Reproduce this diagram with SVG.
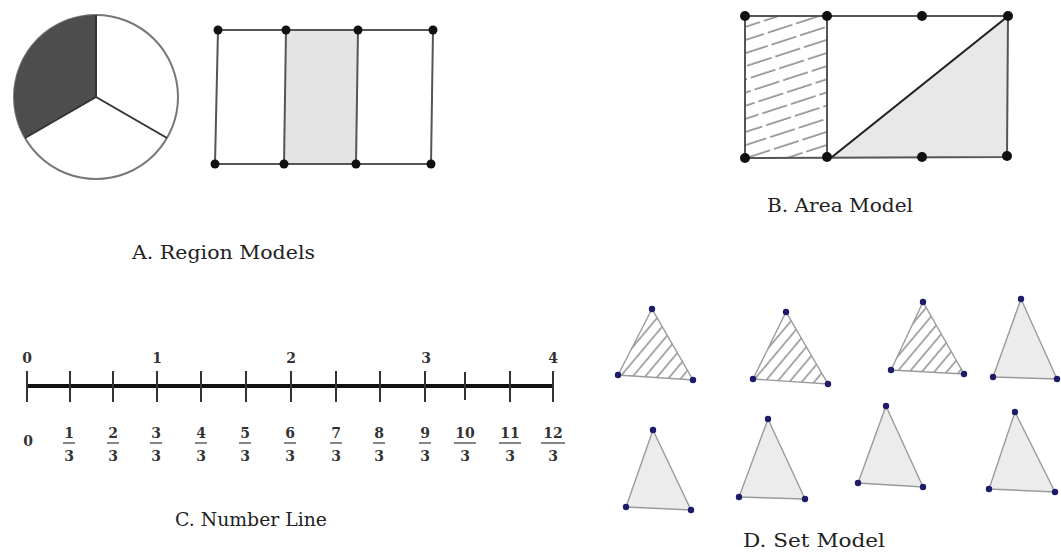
<svg xmlns="http://www.w3.org/2000/svg" width="1061" height="553" viewBox="0 0 1061 553">
<style>
.lbl{font-family:"DejaVu Serif","Liberation Serif",serif;font-size:19px;fill:#222}
.num{font-family:"DejaVu Serif","Liberation Serif",serif;font-size:14px;font-weight:bold;fill:#333;text-anchor:middle}
.tick{stroke:#333;stroke-width:2}
.bar{stroke:#444;stroke-width:1.3}
.dot{fill:#111}
.bdot{fill:#1c1c6b}
.tri{stroke:#9a9a9a;stroke-width:1.4;fill:#ececec}
.trih{stroke:#9a9a9a;stroke-width:1.4;fill:url(#hatchTri)}
.edge{stroke:#555;stroke-width:2;fill:none}
</style>
<defs>
<pattern id="hatchArea" patternUnits="userSpaceOnUse" width="60" height="12.5" patternTransform="rotate(-18)">
<line x1="0" y1="6" x2="60" y2="6" stroke="#666" stroke-width="1.2" stroke-dasharray="26 4"/>
</pattern>
<pattern id="hatchTri" patternUnits="userSpaceOnUse" width="9.5" height="20" patternTransform="rotate(40)">
<rect width="9.5" height="20" fill="#fff"/>
<line x1="4.75" y1="0" x2="4.75" y2="20" stroke="#666" stroke-width="1.1"/>
</pattern>
</defs>

<g id="regionPie">
<circle cx="96" cy="97" r="82" fill="#fff" stroke="#777" stroke-width="2"/>
<path d="M96,97 L96,15 A82,82 0 0 0 25,138 Z" fill="#4d4d4d"/>
<path d="M96,15 L96,97 L25,138 M96,97 L167,138" stroke="#333" stroke-width="2" fill="none"/>
</g>

<g id="regionRect">
<path d="M286,30 L358,30 L356,164 L284,164 Z" fill="#e4e4e4"/>
<path d="M218,30 L433,30 L431,164 L215,164 Z M286,30 L284,164 M358,30 L356,164" class="edge"/>
<circle class="dot" cx="218" cy="30" r="4.5"/><circle class="dot" cx="286" cy="30" r="4.5"/>
<circle class="dot" cx="358" cy="30" r="4.5"/><circle class="dot" cx="433" cy="30" r="4.5"/>
<circle class="dot" cx="215" cy="164" r="4.5"/><circle class="dot" cx="284" cy="164" r="4.5"/>
<circle class="dot" cx="356" cy="164" r="4.5"/><circle class="dot" cx="431" cy="164" r="4.5"/>
</g>
<text id="labelA" class="lbl" x="132" y="259" font-size="20" textLength="183" lengthAdjust="spacingAndGlyphs">A. Region Models</text>

<g id="areaModel">
<rect x="745" y="16" width="82" height="141" fill="url(#hatchArea)"/>
<path d="M832,157 L1007,17 L1007,157 Z" fill="#e8e8e8"/>
<path d="M745,16 L1008,16 L1007,157 L745,158 Z M827,16 L827,158" stroke="#555" stroke-width="2" fill="none"/>
<path d="M832,157 L1007,17" stroke="#222" stroke-width="2.2" fill="none"/>
<circle class="dot" cx="745" cy="16" r="5"/><circle class="dot" cx="827" cy="16" r="5"/>
<circle class="dot" cx="922" cy="16" r="5"/><circle class="dot" cx="1008" cy="16" r="5"/>
<circle class="dot" cx="745" cy="158" r="5"/><circle class="dot" cx="827" cy="157" r="5"/>
<circle class="dot" cx="922" cy="157" r="5"/><circle class="dot" cx="1007" cy="156" r="5"/>
</g>
<text id="labelB" class="lbl" x="767" y="212" textLength="146" lengthAdjust="spacingAndGlyphs">B. Area Model</text>

<g id="numberLine">
<line x1="27" y1="386" x2="553" y2="386" stroke="#111" stroke-width="4"/>
<line class="tick" x1="27" y1="371" x2="27" y2="402"/>
<line class="tick" x1="70" y1="371" x2="70" y2="402"/>
<line class="tick" x1="113" y1="371" x2="113" y2="402"/>
<line class="tick" x1="157" y1="371" x2="157" y2="402"/>
<line class="tick" x1="201" y1="371" x2="201" y2="402"/>
<line class="tick" x1="246" y1="371" x2="246" y2="402"/>
<line class="tick" x1="291" y1="371" x2="291" y2="402"/>
<line class="tick" x1="336" y1="371" x2="336" y2="402"/>
<line class="tick" x1="380" y1="371" x2="380" y2="402"/>
<line class="tick" x1="425" y1="371" x2="425" y2="402"/>
<line class="tick" x1="465" y1="372" x2="465" y2="400" stroke-width="1.4"/>
<line class="tick" x1="510" y1="371" x2="510" y2="402"/>
<line class="tick" x1="553" y1="371" x2="553" y2="402"/>
<text class="num" x="27" y="363">0</text>
<text class="num" x="157" y="363">1</text>
<text class="num" x="291" y="363">2</text>
<text class="num" x="426" y="363">3</text>
<text class="num" x="553" y="363">4</text>
<text class="num" x="28" y="446">0</text>
<g>
<text class="num" x="69" y="438">1</text><line class="bar" x1="63" y1="443" x2="75" y2="443"/><text class="num" x="69" y="461">3</text>
<text class="num" x="113" y="438">2</text><line class="bar" x1="107" y1="443" x2="119" y2="443"/><text class="num" x="113" y="461">3</text>
<text class="num" x="156" y="438">3</text><line class="bar" x1="150" y1="443" x2="162" y2="443"/><text class="num" x="156" y="461">3</text>
<text class="num" x="201" y="438">4</text><line class="bar" x1="195" y1="443" x2="207" y2="443"/><text class="num" x="201" y="461">3</text>
<text class="num" x="245" y="438">5</text><line class="bar" x1="239" y1="443" x2="251" y2="443"/><text class="num" x="245" y="461">3</text>
<text class="num" x="290" y="438">6</text><line class="bar" x1="284" y1="443" x2="296" y2="443"/><text class="num" x="290" y="461">3</text>
<text class="num" x="336" y="438">7</text><line class="bar" x1="330" y1="443" x2="342" y2="443"/><text class="num" x="336" y="461">3</text>
<text class="num" x="379" y="438">8</text><line class="bar" x1="373" y1="443" x2="385" y2="443"/><text class="num" x="379" y="461">3</text>
<text class="num" x="425" y="438">9</text><line class="bar" x1="419" y1="443" x2="431" y2="443"/><text class="num" x="425" y="461">3</text>
<text class="num" x="465" y="438">10</text><line class="bar" x1="454" y1="443" x2="476" y2="443"/><text class="num" x="465" y="461">3</text>
<text class="num" x="510" y="438">11</text><line class="bar" x1="499" y1="443" x2="521" y2="443"/><text class="num" x="510" y="461">3</text>
<text class="num" x="553" y="438">12</text><line class="bar" x1="541" y1="443" x2="565" y2="443"/><text class="num" x="553" y="461">3</text>
</g>
</g>
<text id="labelC" class="lbl" x="175" y="526" textLength="152" lengthAdjust="spacingAndGlyphs">C. Number Line</text>

<g id="setModel">
<g id="tri1"><path class="trih" d="M652,309 L618,375 L693,380 Z"/><circle class="bdot" cx="652" cy="309" r="3.2"/><circle class="bdot" cx="618" cy="375" r="3.2"/><circle class="bdot" cx="693" cy="380" r="3.2"/></g>
<g id="tri2"><path class="trih" d="M786,312 L753,379 L828,384 Z"/><circle class="bdot" cx="786" cy="312" r="3.2"/><circle class="bdot" cx="753" cy="379" r="3.2"/><circle class="bdot" cx="828" cy="384" r="3.2"/></g>
<g id="tri3"><path class="trih" d="M923,302 L891,370 L964,374 Z"/><circle class="bdot" cx="923" cy="302" r="3.2"/><circle class="bdot" cx="891" cy="370" r="3.2"/><circle class="bdot" cx="964" cy="374" r="3.2"/></g>
<g id="tri4"><path class="tri" d="M1021,299 L993,377 L1057,379 Z"/><circle class="bdot" cx="1021" cy="299" r="3.2"/><circle class="bdot" cx="993" cy="377" r="3.2"/><circle class="bdot" cx="1057" cy="379" r="3.2"/></g>
<g id="tri5"><path class="tri" d="M653,430 L626,507 L691,510 Z"/><circle class="bdot" cx="653" cy="430" r="3.2"/><circle class="bdot" cx="626" cy="507" r="3.2"/><circle class="bdot" cx="691" cy="510" r="3.2"/></g>
<g id="tri6"><path class="tri" d="M768,419 L739,497 L805,499 Z"/><circle class="bdot" cx="768" cy="419" r="3.2"/><circle class="bdot" cx="739" cy="497" r="3.2"/><circle class="bdot" cx="805" cy="499" r="3.2"/></g>
<g id="tri7"><path class="tri" d="M886,406 L858,483 L923,487 Z"/><circle class="bdot" cx="886" cy="406" r="3.2"/><circle class="bdot" cx="858" cy="483" r="3.2"/><circle class="bdot" cx="923" cy="487" r="3.2"/></g>
<g id="tri8"><path class="tri" d="M1015,412 L989,489 L1055,492 Z"/><circle class="bdot" cx="1015" cy="412" r="3.2"/><circle class="bdot" cx="989" cy="489" r="3.2"/><circle class="bdot" cx="1055" cy="492" r="3.2"/></g>
</g>
<text id="labelD" class="lbl" x="743" y="547" textLength="142" lengthAdjust="spacingAndGlyphs">D. Set Model</text>
</svg>
